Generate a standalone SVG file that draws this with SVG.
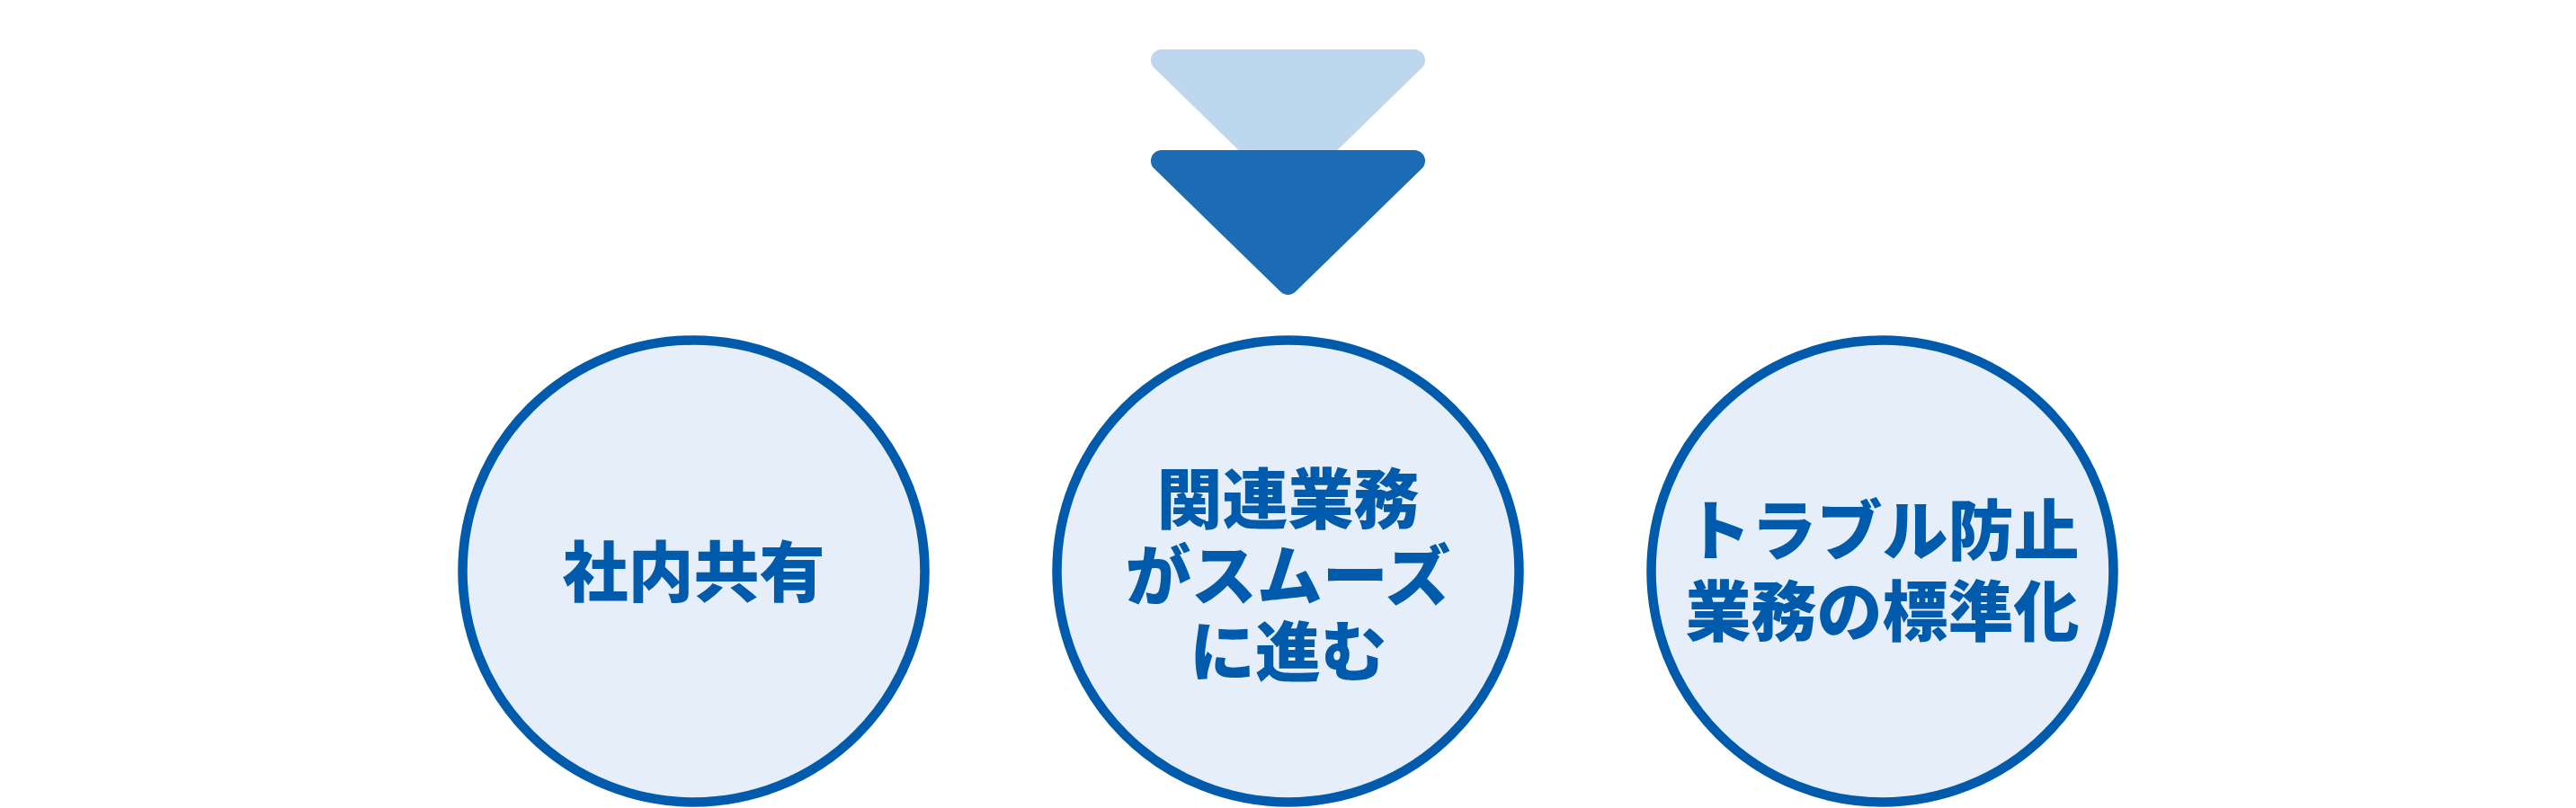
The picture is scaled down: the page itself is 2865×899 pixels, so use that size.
<svg xmlns="http://www.w3.org/2000/svg" width="2865" height="899" viewBox="0 0 2865 899">
  <style>
    .node circle { fill: #E6EFF9; stroke: #005BAC; stroke-width: 10.5; }
    .label { font-family: "Noto Sans CJK JP", "Noto Sans", sans-serif; font-weight: 900; font-size: 73px; fill: #005BAC; text-anchor: middle; }
    .arrow { stroke-linejoin: round; stroke-width: 24; }
  </style>
  <rect width="2865" height="899" fill="#FFFFFF"/>
  <g id="connectors">
    <polygon class="arrow" points="1292,67 1573,67 1432.5,204" fill="#BDD7EE" stroke="#BDD7EE"/>
    <polygon class="arrow" points="1292,179 1573,179 1432.5,316" fill="#1B6CB5" stroke="#1B6CB5"/>
  </g>
  <g id="node-1" class="node">
    <circle cx="771.5" cy="635.5" r="257"/>
    <text class="label" x="771.5" y="663">社内共有</text>
  </g>
  <g id="node-2" class="node">
    <circle cx="1432.5" cy="635.5" r="257"/>
    <text class="label"><tspan x="1432.5" y="582">関連業務</tspan><tspan x="1432.5" y="667">がスムーズ</tspan><tspan x="1432.5" y="752">に進む</tspan></text>
  </g>
  <g id="node-3" class="node">
    <circle cx="2093.5" cy="635.5" r="257"/>
    <text class="label"><tspan x="2093.5" y="617">トラブル防止</tspan><tspan x="2093.5" y="707">業務の標準化</tspan></text>
  </g>
</svg>
